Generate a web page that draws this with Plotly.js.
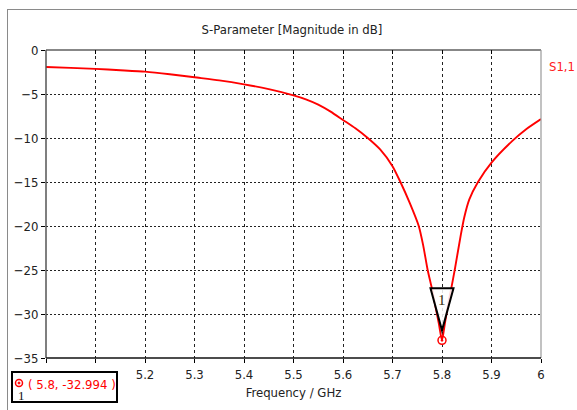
<!DOCTYPE html>
<html>
<head>
<meta charset="utf-8">
<script src="https://cdn.plot.ly/plotly-3.0.1.min.js"></script>
<style>
html,body{margin:0;padding:0;background:#fff;}
#frame{position:absolute;left:7px;top:9px;width:600px;height:420px;border-left:1px solid #8a8a8a;border-top:1px solid #8a8a8a;}
#chart{position:absolute;left:0;top:0;width:577px;height:410px;}
</style>
</head>
<body>
<div id="frame"></div>
<div id="chart"></div>
<script>
// Frequency (GHz) and S1,1 magnitude (dB)
const freq = [5.0, 5.05, 5.1, 5.15, 5.2, 5.25, 5.3, 5.35, 5.4, 5.45, 5.5, 5.525, 5.55, 5.575, 5.6, 5.625, 5.65, 5.675, 5.7, 5.716, 5.735, 5.753, 5.762, 5.771, 5.780, 5.787, 5.794, 5.8, 5.806, 5.812, 5.819, 5.826, 5.838, 5.845, 5.855, 5.8727, 5.9, 5.9427, 5.97, 6.0];
const s11  = [-1.93, -2.03, -2.15, -2.3, -2.46, -2.75, -3.1, -3.45, -3.9, -4.45, -5.15, -5.6, -6.2, -7.0, -7.95, -8.9, -10.0, -11.3, -13.2, -15.0, -17.4, -20.0, -22.2, -25.0, -27.2, -29.2, -31.2, -32.994, -31.0, -29.0, -27.0, -24.9, -21.0, -19.0, -17.0, -15.0, -12.8, -10.3, -9.0, -7.85];
const seriesName = "S1,1";
const markerX = [5.8];
const markerY = [-32.994];
const markerLabel = "1";
const xTicks = [5.0, 5.1, 5.2, 5.3, 5.4, 5.5, 5.6, 5.7, 5.8, 5.9, 6.0];
const xTickText = ["", "", "5.2", "5.3", "5.4", "5.5", "5.6", "5.7", "5.8", "5.9", "6"];
const yTicks = [0, -5, -10, -15, -20, -25, -30, -35];

const W = 577, H = 410, L = 46, R = 36, T = 50, B = 52;
const pw = W - L - R, ph = H - T - B;
const px = v => (v - L) / pw;          // pixel -> paper x
const py = v => (H - B - v) / ph;      // pixel -> paper y

const font = "'DejaVu Sans Condensed', 'DejaVu Sans', sans-serif";
const txt = "#222";

const traces = [
  {x: freq, y: s11, type: "scatter", mode: "lines", name: seriesName,
   line: {color: "#ff0000", width: 1.9, shape: "spline", smoothing: 0.6}, hoverinfo: "skip"},
  {x: markerX, y: markerY, type: "scatter", mode: "markers",
   marker: {symbol: "circle-open-dot", size: 8, color: "#ff0000", line: {width: 1.5, color: "#ff0000"}},
   cliponaxis: false, hoverinfo: "skip"},
  // invisible trace so the top tick axis is drawn
  {x: markerX, y: markerY, xaxis: "x2", type: "scatter", mode: "markers",
   marker: {size: 1, color: "rgba(0,0,0,0)"}, hoverinfo: "skip"}
];

const layout = {
  width: W, height: H,
  margin: {l: L, r: R, t: T, b: B},
  paper_bgcolor: "rgba(0,0,0,0)", plot_bgcolor: "#fff",
  showlegend: false,
  font: {family: font, size: 13, color: txt},
  title: {text: "S-Parameter [Magnitude in dB]", x: 292 / W, xref: "container", xanchor: "center",
          y: 1 - 29 / H, yref: "container", yanchor: "middle", font: {family: font, size: 13, color: txt}},
  xaxis: {range: [5.0, 6.0], tickvals: xTicks, ticktext: xTickText, ticks: "outside", ticklen: 4,
          tickcolor: "#000", showline: false, zeroline: false,
          showgrid: true, gridcolor: "#222", griddash: "3px,3px", gridwidth: 1,
          ticklabelstandoff: 0, tickfont: {family: font, size: 13, color: txt},
          title: {text: "Frequency / GHz", standoff: 7, font: {family: font, size: 13, color: txt}}},
  xaxis2: {range: [5.0, 6.0], overlaying: "x", side: "top", tickvals: xTicks, ticks: "inside", ticklen: 4,
           tickcolor: "#000", showticklabels: false, showgrid: false, zeroline: false, showline: false},
  yaxis: {range: [-35, 0], tickvals: yTicks, ticks: "outside", ticklen: 4, tickcolor: "#000",
          showline: false, zeroline: false,
          showgrid: true, gridcolor: "#222", griddash: "2px,2px", gridwidth: 1,
          tickfont: {family: font, size: 13, color: txt}},
  shapes: [
    // plot frame
    {type: "line", xref: "paper", yref: "paper", x0: 0, x1: 1, y0: 1, y1: 1, line: {color: "#111", width: 1.2}, layer: "above"},
    {type: "line", xref: "paper", yref: "paper", x0: 1, x1: 1, y0: 0, y1: 1, line: {color: "#999", width: 1.2}, layer: "above"},
    {type: "line", xref: "paper", yref: "paper", x0: 0, x1: 0, y0: 0, y1: 1, line: {color: "#555", width: 1.5}, layer: "above"},
    {type: "line", xref: "paper", yref: "paper", x0: 0, x1: 1, y0: 0, y1: 0, line: {color: "#111", width: 1.5}, layer: "above"},
    // marker triangle, anchored at the marker point
    {type: "path", xref: "x", yref: "y", xsizemode: "pixel", ysizemode: "pixel",
     xanchor: markerX[0], yanchor: markerY[0],
     path: "M -11.5 52 L 11.5 52 L 0 10 Z", line: {color: "#000", width: 2}, fillcolor: "rgba(255,255,255,0.85)", layer: "above"},
    // marker info box
    {type: "rect", xref: "paper", yref: "paper", x0: px(12), x1: px(117), y0: py(372), y1: py(402),
     line: {color: "#000", width: 2}, fillcolor: "#fff", layer: "above"},
    {type: "circle", xref: "paper", yref: "paper", x0: px(15.5), x1: px(22.5), y0: py(379.5), y1: py(386.5),
     line: {color: "#ff0000", width: 1.5}, fillcolor: "rgba(0,0,0,0)", layer: "above"},
    {type: "circle", xref: "paper", yref: "paper", x0: px(18), x1: px(20), y0: py(382), y1: py(384),
     line: {color: "#ff0000", width: 1}, fillcolor: "#ff0000", layer: "above"}
  ],
  annotations: [
    {text: seriesName, xref: "paper", yref: "paper", x: px(562), y: py(66), showarrow: false,
     xanchor: "center", yanchor: "middle", font: {family: font, size: 13, color: "#ff2020"}},
    {text: markerLabel, xref: "x", yref: "y", x: markerX[0], y: markerY[0], yshift: 40, showarrow: false,
     xanchor: "center", yanchor: "middle", font: {family: "'Liberation Serif', serif", size: 15, color: "#3a3010"}},
    {text: "( " + markerX[0] + ", " + markerY[0] + " )", xref: "paper", yref: "paper", x: px(72), y: py(384),
     showarrow: false, xanchor: "center", yanchor: "middle", font: {family: font, size: 13, color: "#ff0000"}},
    {text: markerLabel, xref: "paper", yref: "paper", x: px(21), y: py(395), showarrow: false,
     xanchor: "center", yanchor: "middle", font: {family: "'Liberation Serif', serif", size: 13, color: "#111"}}
  ]
};

Plotly.newPlot("chart", traces, layout, {displayModeBar: false, staticPlot: true});
</script>
</body>
</html>
